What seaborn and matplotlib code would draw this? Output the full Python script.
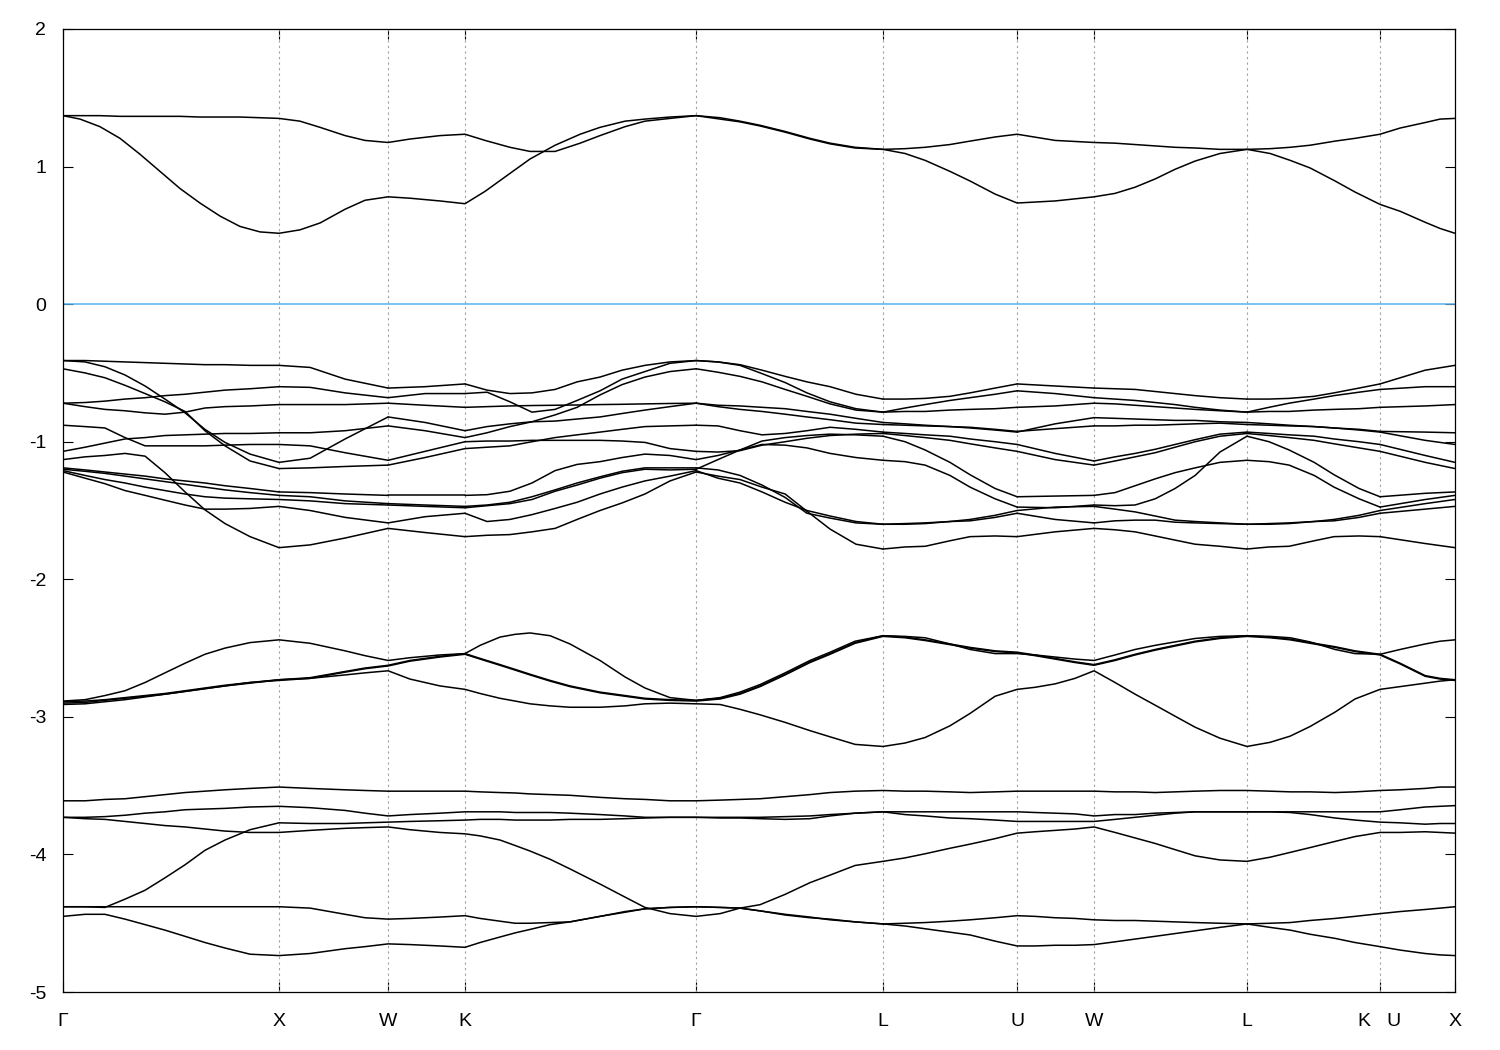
import matplotlib
matplotlib.use("Agg")
import matplotlib.pyplot as plt
import numpy as np
import pandas as pd
import seaborn as sns

# high-symmetry points along the path (units of 2pi/a) and their labels
sym_k = [0.000, 1.000, 1.505, 1.861, 2.931, 3.796, 4.417, 4.773, 5.481, 6.097, 6.444]
sym_labels = ["Γ", "X", "W", "K", "Γ", "L", "U", "W", "L", "K   U", "X"]

# conduction bands (eV)
cond_k = [0.000, 0.079, 0.171, 0.264, 0.356, 0.449, 0.542, 0.634, 0.727, 0.819, 0.912, 1.000,
          1.097, 1.190, 1.306, 1.398, 1.505,
          1.606, 1.745, 1.861,
          1.954, 2.069, 2.162, 2.278, 2.394, 2.486, 2.602, 2.694, 2.810, 2.931,
          3.042, 3.134, 3.227, 3.343, 3.458, 3.551, 3.667, 3.796,
          3.898, 3.991, 4.106, 4.199, 4.315, 4.417,
          4.593, 4.773,
          4.870, 4.963, 5.056, 5.148, 5.241, 5.356, 5.481,
          5.588, 5.681, 5.773, 5.889, 5.981, 6.097,
          6.190, 6.306, 6.375, 6.444]
cond_1 = [1.37, 1.345, 1.29, 1.205, 1.09, 0.965, 0.84, 0.735, 0.64, 0.565, 0.525, 0.515,
          0.54, 0.59, 0.69, 0.755, 0.78,
          0.77, 0.75, 0.73,
          0.82, 0.95, 1.055, 1.155, 1.235, 1.285, 1.33, 1.345, 1.36, 1.37,
          1.355, 1.33, 1.30, 1.255, 1.205, 1.17, 1.14, 1.125,
          1.095, 1.045, 0.965, 0.895, 0.80, 0.735,
          0.75, 0.78,
          0.805, 0.85, 0.91, 0.98, 1.04, 1.095, 1.125,
          1.095, 1.045, 0.99, 0.895, 0.815, 0.725,
          0.675, 0.595, 0.55, 0.515]
cond_2 = [1.37, 1.37, 1.37, 1.365, 1.365, 1.365, 1.365, 1.36, 1.36, 1.36, 1.355, 1.35,
          1.33, 1.285, 1.225, 1.19, 1.175,
          1.20, 1.225, 1.235,
          1.19, 1.14, 1.11, 1.11, 1.17, 1.225, 1.29, 1.33, 1.35, 1.37,
          1.345, 1.325, 1.295, 1.25, 1.20, 1.165, 1.135, 1.125,
          1.13, 1.14, 1.16, 1.185, 1.215, 1.235,
          1.19, 1.175,
          1.17, 1.16, 1.15, 1.14, 1.135, 1.125, 1.125,
          1.13, 1.14, 1.155, 1.185, 1.205, 1.235,
          1.28, 1.32, 1.345, 1.35]

# lower valence groups
deep_k = [0.000, 0.102, 0.194, 0.287, 0.380, 0.472, 0.565, 0.657, 0.750, 0.866, 1.000,
          1.144, 1.306, 1.398, 1.505,
          1.606, 1.745, 1.861,
          1.931, 2.023, 2.093, 2.162, 2.255, 2.347, 2.486, 2.602, 2.694, 2.810, 2.931,
          3.042, 3.134, 3.227, 3.343, 3.458, 3.551, 3.667, 3.796,
          3.898, 3.991, 4.106, 4.199, 4.315, 4.417,
          4.500, 4.593, 4.685, 4.773,
          4.870, 4.963, 5.056, 5.148, 5.241, 5.356, 5.481,
          5.588, 5.681, 5.773, 5.889, 5.981, 6.097,
          6.190, 6.306, 6.375, 6.444]
mid_1 = [-2.885, -2.875, -2.845, -2.81, -2.75, -2.68, -2.61, -2.545, -2.50, -2.46, -2.44,
         -2.465, -2.52, -2.555, -2.59,
         -2.57, -2.55, -2.54,
         -2.48, -2.42, -2.40, -2.39, -2.41, -2.47, -2.59, -2.71, -2.79, -2.86, -2.88,
         -2.86, -2.82, -2.765, -2.68, -2.59, -2.53, -2.45, -2.41,
         -2.415, -2.425, -2.47, -2.51, -2.54, -2.54,
         -2.55, -2.565, -2.58, -2.59,
         -2.55, -2.51, -2.48, -2.455, -2.43, -2.415, -2.41,
         -2.415, -2.425, -2.455, -2.51, -2.54, -2.545,
         -2.51, -2.47, -2.45, -2.44]
mid_2 = [-2.89, -2.885, -2.875, -2.86, -2.845, -2.83, -2.81, -2.79, -2.77, -2.75, -2.73,
         -2.715, -2.67, -2.645, -2.625,
         -2.59, -2.56, -2.54,
         -2.575, -2.62, -2.655, -2.69, -2.735, -2.775, -2.82, -2.845, -2.865, -2.875, -2.88,
         -2.865, -2.83, -2.775, -2.69, -2.60, -2.54, -2.46, -2.41,
         -2.42, -2.44, -2.47, -2.495, -2.52, -2.53,
         -2.55, -2.575, -2.60, -2.62,
         -2.585, -2.545, -2.51, -2.48, -2.45, -2.425, -2.41,
         -2.42, -2.435, -2.46, -2.49, -2.52, -2.545,
         -2.61, -2.70, -2.72, -2.73]
mid_3 = [-2.91, -2.905, -2.89, -2.875, -2.855, -2.835, -2.815, -2.795, -2.775, -2.755, -2.73,
         -2.72, -2.695, -2.68, -2.665,
         -2.725, -2.775, -2.80,
         -2.83, -2.865, -2.885, -2.905, -2.92, -2.93, -2.93, -2.92, -2.905, -2.90, -2.905,
         -2.91, -2.945, -2.985, -3.04, -3.10, -3.145, -3.20, -3.215,
         -3.19, -3.15, -3.065, -2.975, -2.85, -2.80,
         -2.785, -2.76, -2.72, -2.665,
         -2.75, -2.835, -2.915, -2.995, -3.075, -3.155, -3.215,
         -3.185, -3.14, -3.07, -2.965, -2.87, -2.80,
         -2.78, -2.755, -2.74, -2.73]
mid_4 = [-2.90, -2.895, -2.88, -2.865, -2.85, -2.835, -2.815, -2.795, -2.775, -2.75, -2.735,
         -2.72, -2.675, -2.65, -2.63,
         -2.595, -2.565, -2.545,
         -2.58, -2.625, -2.66, -2.695, -2.74, -2.78, -2.825, -2.85, -2.87, -2.88, -2.885,
         -2.87, -2.835, -2.78, -2.695, -2.605, -2.545, -2.465, -2.415,
         -2.425, -2.445, -2.475, -2.50, -2.525, -2.535,
         -2.555, -2.58, -2.605, -2.625,
         -2.59, -2.55, -2.515, -2.485, -2.455, -2.43, -2.415,
         -2.425, -2.44, -2.465, -2.495, -2.525, -2.55,
         -2.615, -2.705, -2.725, -2.735]

low_1 = [-3.61, -3.61, -3.60, -3.595, -3.58, -3.565, -3.55, -3.54, -3.53, -3.52, -3.51,
         -3.52, -3.53, -3.535, -3.54,
         -3.54, -3.54, -3.54,
         -3.545, -3.55, -3.553, -3.56, -3.565, -3.57, -3.585, -3.595, -3.60, -3.61, -3.61,
         -3.605, -3.60, -3.595, -3.58, -3.565, -3.55, -3.54, -3.535,
         -3.54, -3.54, -3.545, -3.55, -3.545, -3.54,
         -3.54, -3.54, -3.54, -3.54,
         -3.545, -3.545, -3.55, -3.545, -3.54, -3.535, -3.535,
         -3.54, -3.545, -3.545, -3.55, -3.545, -3.535,
         -3.53, -3.52, -3.51, -3.51]
low_2 = [-3.73, -3.73, -3.725, -3.715, -3.70, -3.69, -3.675, -3.67, -3.665, -3.655, -3.65,
         -3.66, -3.68, -3.70, -3.72,
         -3.71, -3.70, -3.69,
         -3.69, -3.69, -3.695, -3.695, -3.695, -3.70, -3.71, -3.72, -3.73, -3.73, -3.73,
         -3.73, -3.73, -3.73, -3.725, -3.72, -3.71, -3.70, -3.69,
         -3.69, -3.69, -3.69, -3.69, -3.69, -3.69,
         -3.695, -3.70, -3.705, -3.72,
         -3.71, -3.71, -3.70, -3.695, -3.69, -3.69, -3.69,
         -3.69, -3.69, -3.69, -3.69, -3.69, -3.69,
         -3.675, -3.655, -3.65, -3.645]
low_3 = [-3.73, -3.74, -3.745, -3.76, -3.775, -3.79, -3.80, -3.815, -3.83, -3.84, -3.84,
         -3.825, -3.81, -3.805, -3.80,
         -3.82, -3.84, -3.85,
         -3.865, -3.895, -3.935, -3.975, -4.035, -4.105, -4.215, -4.31, -4.385, -4.43, -4.45,
         -4.43, -4.39, -4.365, -4.29, -4.205, -4.15, -4.08, -4.05,
         -4.025, -3.995, -3.955, -3.925, -3.885, -3.845,
         -3.835, -3.825, -3.815, -3.80,
         -3.84, -3.88, -3.92, -3.965, -4.01, -4.04, -4.05,
         -4.02, -3.985, -3.95, -3.905, -3.87, -3.84,
         -3.84, -3.835, -3.84, -3.845]
low_4 = [-4.38, -4.38, -4.385, -4.325, -4.26, -4.17, -4.075, -3.97, -3.895, -3.82, -3.77,
         -3.775, -3.775, -3.77, -3.765,
         -3.76, -3.755, -3.75,
         -3.745, -3.745, -3.75, -3.75, -3.75, -3.745, -3.745, -3.74, -3.735, -3.73, -3.73,
         -3.735, -3.735, -3.74, -3.745, -3.74, -3.72, -3.70, -3.69,
         -3.71, -3.72, -3.735, -3.74, -3.75, -3.76,
         -3.76, -3.76, -3.76, -3.76,
         -3.745, -3.73, -3.715, -3.70, -3.69, -3.69, -3.69,
         -3.69, -3.695, -3.71, -3.735, -3.75, -3.765,
         -3.77, -3.78, -3.775, -3.775]
low_5 = [-4.38, -4.38, -4.38, -4.38, -4.38, -4.38, -4.38, -4.38, -4.38, -4.38, -4.38,
         -4.39, -4.435, -4.46, -4.47,
         -4.465, -4.455, -4.445,
         -4.465, -4.485, -4.50, -4.50, -4.495, -4.49, -4.45, -4.415, -4.395, -4.385, -4.38,
         -4.385, -4.39, -4.41, -4.435, -4.455, -4.475, -4.49, -4.505,
         -4.50, -4.495, -4.485, -4.475, -4.46, -4.445,
         -4.45, -4.46, -4.465, -4.475,
         -4.48, -4.48, -4.485, -4.49, -4.495, -4.50, -4.505,
         -4.50, -4.495, -4.48, -4.465, -4.45, -4.43,
         -4.415, -4.40, -4.39, -4.38]
low_6 = [-4.45, -4.435, -4.435, -4.47, -4.51, -4.55, -4.595, -4.64, -4.68, -4.725, -4.735,
         -4.72, -4.685, -4.67, -4.65,
         -4.655, -4.665, -4.675,
         -4.64, -4.60, -4.57, -4.545, -4.51, -4.49, -4.45, -4.42, -4.395, -4.385, -4.38,
         -4.385, -4.39, -4.41, -4.44, -4.46, -4.47, -4.49, -4.505,
         -4.52, -4.54, -4.565, -4.585, -4.63, -4.665,
         -4.665, -4.66, -4.66, -4.655,
         -4.635, -4.615, -4.595, -4.575, -4.555, -4.53, -4.505,
         -4.53, -4.55, -4.58, -4.61, -4.64, -4.67,
         -4.695, -4.72, -4.73, -4.735]

# upper valence group: lines cross a lot, so one table per path segment
k_GX = [0.000, 0.102, 0.194, 0.287, 0.380, 0.472, 0.565, 0.657, 0.750, 0.866, 1.000]
top_GX = [
    [-0.41, -0.41, -0.415, -0.42, -0.425, -0.43, -0.435, -0.44, -0.44, -0.445, -0.445],
    [-0.41, -0.42, -0.455, -0.515, -0.595, -0.69, -0.79, -0.91, -1.005, -1.09, -1.15],
    [-0.47, -0.50, -0.535, -0.59, -0.65, -0.71, -0.78, -0.92, -1.03, -1.14, -1.195],
    [-0.72, -0.715, -0.705, -0.69, -0.68, -0.665, -0.655, -0.64, -0.625, -0.615, -0.60],
    [-0.72, -0.745, -0.765, -0.775, -0.79, -0.80, -0.785, -0.755, -0.745, -0.74, -0.73],
    [-0.88, -0.89, -0.90, -0.97, -1.03, -1.03, -1.03, -1.03, -1.025, -1.02, -1.02],
    [-1.07, -1.04, -1.01, -0.98, -0.97, -0.955, -0.95, -0.945, -0.94, -0.94, -0.935],
    [-1.13, -1.11, -1.10, -1.085, -1.105, -1.225, -1.365, -1.495, -1.595, -1.69, -1.77],
    [-1.19, -1.205, -1.22, -1.235, -1.25, -1.27, -1.285, -1.30, -1.32, -1.34, -1.365],
    [-1.20, -1.215, -1.23, -1.25, -1.27, -1.29, -1.31, -1.33, -1.35, -1.37, -1.39],
    [-1.21, -1.245, -1.275, -1.30, -1.33, -1.355, -1.38, -1.40, -1.41, -1.415, -1.42],
    [-1.22, -1.265, -1.305, -1.355, -1.39, -1.425, -1.46, -1.49, -1.49, -1.485, -1.47],
]
k_XW = [1.000, 1.144, 1.306, 1.505]
top_XW = [
    [-0.445, -0.46, -0.545, -0.61],
    [-0.60, -0.605, -0.645, -0.68],
    [-0.73, -0.73, -0.73, -0.72],
    [-0.935, -0.935, -0.92, -0.885],
    [-1.15, -1.12, -0.98, -0.82],
    [-1.02, -1.03, -1.08, -1.135],
    [-1.195, -1.19, -1.18, -1.17],
    [-1.365, -1.37, -1.38, -1.39],
    [-1.39, -1.40, -1.43, -1.45],
    [-1.42, -1.43, -1.45, -1.46],
    [-1.47, -1.50, -1.55, -1.59],
    [-1.77, -1.75, -1.70, -1.63],
]
k_WK = [1.505, 1.676, 1.861]
top_WK = [
    [-0.61, -0.60, -0.58],
    [-0.68, -0.65, -0.65],
    [-0.72, -0.735, -0.75],
    [-0.82, -0.86, -0.92],
    [-0.885, -0.92, -0.97],
    [-1.135, -1.07, -1.00],
    [-1.17, -1.115, -1.05],
    [-1.39, -1.39, -1.39],
    [-1.45, -1.46, -1.47],
    [-1.46, -1.47, -1.48],
    [-1.59, -1.545, -1.52],
    [-1.63, -1.66, -1.69],
]
k_KG = [1.861, 1.963, 2.069, 2.171, 2.278, 2.380, 2.486, 2.588, 2.694, 2.810, 2.931]
top_KG = [
    [-0.58, -0.625, -0.65, -0.645, -0.62, -0.565, -0.53, -0.48, -0.445, -0.42, -0.41],
    [-0.65, -0.64, -0.71, -0.785, -0.765, -0.70, -0.63, -0.545, -0.49, -0.43, -0.41],
    [-0.75, -0.745, -0.74, -0.737, -0.735, -0.733, -0.73, -0.728, -0.725, -0.722, -0.72],
    [-0.92, -0.89, -0.87, -0.855, -0.85, -0.835, -0.82, -0.795, -0.77, -0.745, -0.72],
    [-0.97, -0.935, -0.89, -0.855, -0.805, -0.75, -0.66, -0.585, -0.53, -0.49, -0.47],
    [-1.00, -0.995, -0.995, -0.99, -0.99, -0.99, -0.99, -0.995, -1.005, -1.05, -1.07],
    [-1.05, -1.04, -1.03, -1.00, -0.97, -0.95, -0.93, -0.91, -0.89, -0.885, -0.88],
    [-1.39, -1.385, -1.36, -1.30, -1.21, -1.165, -1.145, -1.115, -1.09, -1.10, -1.13],
    [-1.47, -1.46, -1.44, -1.40, -1.35, -1.30, -1.255, -1.215, -1.19, -1.19, -1.19],
    [-1.48, -1.465, -1.45, -1.42, -1.36, -1.315, -1.265, -1.225, -1.20, -1.205, -1.20],
    [-1.52, -1.58, -1.565, -1.53, -1.485, -1.44, -1.38, -1.33, -1.285, -1.25, -1.21],
    [-1.69, -1.68, -1.675, -1.655, -1.63, -1.565, -1.50, -1.445, -1.38, -1.285, -1.22],
]
k_GL = [2.931, 3.032, 3.134, 3.236, 3.343, 3.444, 3.551, 3.671, 3.796]
top_GL = [
    [-0.41, -0.42, -0.44, -0.48, -0.525, -0.565, -0.60, -0.655, -0.69],
    [-0.41, -0.42, -0.445, -0.505, -0.57, -0.645, -0.71, -0.76, -0.785],
    [-0.47, -0.495, -0.525, -0.565, -0.62, -0.67, -0.725, -0.77, -0.785],
    [-0.72, -0.735, -0.74, -0.75, -0.76, -0.78, -0.80, -0.83, -0.86],
    [-0.72, -0.745, -0.765, -0.78, -0.80, -0.82, -0.84, -0.865, -0.875],
    [-0.88, -0.885, -0.92, -0.95, -0.94, -0.92, -0.895, -0.91, -0.93],
    [-1.07, -1.075, -1.065, -1.025, -1.00, -0.975, -0.955, -0.945, -0.94],
    [-1.13, -1.10, -1.06, -1.02, -1.025, -1.045, -1.085, -1.115, -1.135],
    [-1.20, -1.13, -1.06, -0.995, -0.97, -0.955, -0.945, -0.95, -0.96],
    [-1.19, -1.205, -1.245, -1.315, -1.405, -1.52, -1.555, -1.59, -1.60],
    [-1.21, -1.265, -1.30, -1.365, -1.44, -1.50, -1.54, -1.58, -1.60],
    [-1.22, -1.25, -1.275, -1.33, -1.38, -1.505, -1.635, -1.745, -1.78],
]
k_LU = [3.796, 3.898, 3.991, 4.106, 4.199, 4.315, 4.417]
top_LU = [
    [-0.69, -0.69, -0.685, -0.67, -0.645, -0.61, -0.58],
    [-0.785, -0.755, -0.73, -0.70, -0.68, -0.655, -0.63],
    [-0.785, -0.78, -0.78, -0.77, -0.765, -0.76, -0.75],
    [-0.86, -0.87, -0.88, -0.89, -0.90, -0.915, -0.93],
    [-0.875, -0.88, -0.885, -0.89, -0.895, -0.91, -0.925],
    [-0.93, -0.94, -0.95, -0.96, -0.98, -1.00, -1.02],
    [-0.94, -0.955, -0.97, -0.99, -1.015, -1.045, -1.07],
    [-0.96, -1.00, -1.06, -1.15, -1.24, -1.34, -1.40],
    [-1.135, -1.145, -1.17, -1.245, -1.33, -1.415, -1.475],
    [-1.60, -1.60, -1.595, -1.58, -1.565, -1.535, -1.50],
    [-1.60, -1.595, -1.59, -1.58, -1.575, -1.55, -1.52],
    [-1.78, -1.765, -1.76, -1.72, -1.69, -1.685, -1.69],
]
k_UW = [4.417, 4.593, 4.773]
top_UW = [
    [-0.58, -0.595, -0.61],
    [-0.63, -0.65, -0.68],
    [-0.75, -0.74, -0.72],
    [-0.93, -0.87, -0.825],
    [-0.925, -0.905, -0.885],
    [-1.02, -1.085, -1.14],
    [-1.07, -1.13, -1.17],
    [-1.40, -1.395, -1.39],
    [-1.475, -1.48, -1.46],
    [-1.50, -1.475, -1.47],
    [-1.52, -1.565, -1.59],
    [-1.69, -1.655, -1.63],
]
k_WL = [4.773, 4.870, 4.963, 5.056, 5.148, 5.241, 5.356, 5.481]
top_WL = [
    [-0.61, -0.615, -0.62, -0.635, -0.65, -0.665, -0.68, -0.69],
    [-0.68, -0.69, -0.70, -0.715, -0.73, -0.75, -0.77, -0.785],
    [-0.72, -0.725, -0.735, -0.745, -0.755, -0.765, -0.775, -0.785],
    [-0.825, -0.83, -0.835, -0.84, -0.845, -0.845, -0.855, -0.86],
    [-0.885, -0.885, -0.88, -0.88, -0.875, -0.87, -0.865, -0.875],
    [-1.14, -1.11, -1.085, -1.055, -1.02, -0.985, -0.945, -0.93],
    [-1.17, -1.14, -1.11, -1.08, -1.04, -1.00, -0.96, -0.94],
    [-1.39, -1.37, -1.32, -1.27, -1.225, -1.19, -1.15, -1.135],
    [-1.46, -1.465, -1.46, -1.415, -1.34, -1.245, -1.075, -0.96],
    [-1.47, -1.49, -1.51, -1.54, -1.57, -1.58, -1.59, -1.60],
    [-1.59, -1.575, -1.57, -1.57, -1.585, -1.59, -1.595, -1.60],
    [-1.63, -1.64, -1.655, -1.685, -1.715, -1.745, -1.76, -1.78],
]
k_LK = [5.481, 5.583, 5.676, 5.792, 5.884, 6.000, 6.097]
top_LK = [
    [-0.69, -0.69, -0.685, -0.67, -0.645, -0.61, -0.58],
    [-0.785, -0.75, -0.72, -0.69, -0.665, -0.64, -0.62],
    [-0.785, -0.78, -0.78, -0.77, -0.765, -0.76, -0.75],
    [-0.86, -0.87, -0.88, -0.89, -0.90, -0.91, -0.925],
    [-0.875, -0.88, -0.885, -0.89, -0.90, -0.915, -0.93],
    [-0.93, -0.94, -0.95, -0.96, -0.98, -1.00, -1.02],
    [-0.94, -0.955, -0.97, -0.99, -1.015, -1.045, -1.07],
    [-0.96, -1.00, -1.06, -1.15, -1.24, -1.34, -1.40],
    [-1.135, -1.145, -1.17, -1.245, -1.33, -1.415, -1.475],
    [-1.60, -1.60, -1.595, -1.58, -1.565, -1.535, -1.50],
    [-1.60, -1.595, -1.59, -1.58, -1.575, -1.55, -1.52],
    [-1.78, -1.765, -1.76, -1.72, -1.69, -1.685, -1.69],
]
k_UX = [6.097, 6.306, 6.444]
top_UX = [
    [-0.58, -0.48, -0.445],
    [-0.62, -0.60, -0.60],
    [-0.75, -0.74, -0.73],
    [-0.925, -0.93, -0.935],
    [-0.93, -0.99, -1.02],
    [-1.02, -1.10, -1.15],
    [-1.07, -1.15, -1.195],
    [-1.40, -1.375, -1.365],
    [-1.475, -1.42, -1.39],
    [-1.50, -1.45, -1.42],
    [-1.52, -1.49, -1.47],
    [-1.69, -1.74, -1.77],
]

band_sets = [(cond_k, [cond_1, cond_2]),
             (deep_k, [mid_1, mid_2, mid_3, mid_4]),
             (deep_k, [low_1, low_2, low_3, low_4, low_5, low_6]),
             (k_GX, top_GX), (k_XW, top_XW), (k_WK, top_WK), (k_KG, top_KG),
             (k_GL, top_GL), (k_LU, top_LU), (k_UW, top_UW), (k_WL, top_WL),
             (k_LK, top_LK), (k_UX, top_UX)]

rows = []
for gi, (ks, bands) in enumerate(band_sets):
    for bi, band in enumerate(bands):
        for k, e in zip(ks, band):
            rows.append((k, e, f"g{gi}_{bi}"))
df = pd.DataFrame(rows, columns=["k", "energy", "line"])

sns.set_theme(style="ticks")
plt.rcParams["font.family"] = ["Liberation Sans", "DejaVu Sans"]

fig = plt.figure(figsize=(15, 10.5), dpi=100)
ax = fig.add_axes([0.042, 0.0552, 0.928, 0.9172])

for xk in sym_k[1:-1]:
    ax.axvline(xk, color="#a0a0a0", lw=0.8, ls=(0, (2, 3)), zorder=1)
ax.axhline(0, color="#56b4e9", lw=1.1, zorder=2)

sns.lineplot(data=df, x="k", y="energy", units="line", estimator=None, sort=False,
             color="black", linewidth=1.1, legend=False, ax=ax, zorder=3)

ax.set_xlim(sym_k[0], sym_k[-1])
ax.set_ylim(-5, 2)
ax.set_xticks(sym_k)
ax.set_xticklabels(sym_labels)
ax.set_yticks(range(-5, 3))
ax.set_yticklabels([str(v) for v in range(-5, 3)])
ax.set_xlabel("")
ax.set_ylabel("")
ax.tick_params(direction="in", top=True, right=True, length=7, width=0.8,
               labelsize=14, colors="black")
ax.tick_params(axis="x", pad=15)
ax.tick_params(axis="y", pad=12)
for sp in ax.spines.values():
    sp.set_linewidth(0.9)
    sp.set_color("black")

fig.savefig("out.png", dpi=100)
